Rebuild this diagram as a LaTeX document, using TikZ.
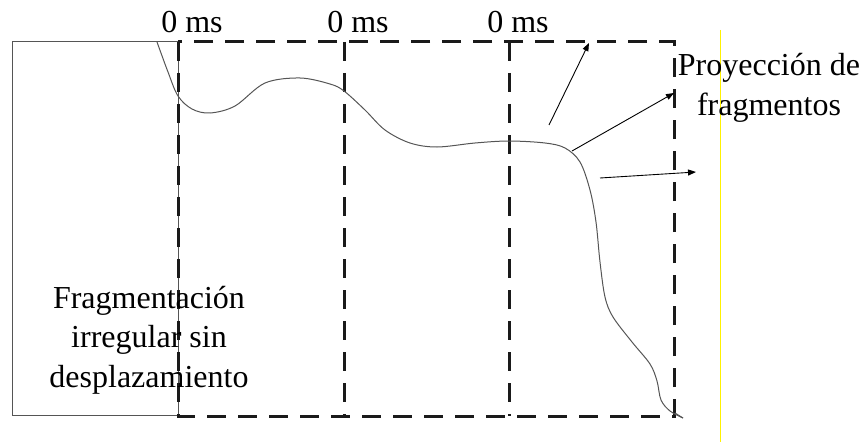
\documentclass[tikz,border=0pt]{standalone}
\usepackage{fontspec}
\setmainfont{Liberation Serif}[Ligatures=TeX]
\usetikzlibrary{arrows.meta}
\definecolor{edgegray}{HTML}{555555}
\definecolor{dashink}{HTML}{1A1A1A}
\tikzset{
  solidframe/.style={draw=edgegray, line width=1pt},
  phasebox/.style={draw=dashink, line width=3pt, dash pattern=on 19pt off 12pt},
  crack/.style={draw=edgegray, line width=1pt},
  spray/.style={draw=black, line width=0.9pt, -{Triangle[length=8pt,width=6pt]}},
  lbl/.style={font=\rmfamily\fontsize{32}{39.5}\selectfont, inner sep=0pt, align=center},
}
\begin{document}
\begin{tikzpicture}[x=1pt, y=-1pt]
  \useasboundingbox (0,0) rectangle (863,444);

  % undisturbed block on the left
  \draw[solidframe] (178,42) -- (12,42) -- (12,415) -- (178,415) -- cycle;

  % the three time windows
  \draw[phasebox] (178,42) rectangle (674,416);
  \draw[phasebox] (344,42) -- (344,416);
  \draw[phasebox] (509,42) -- (509,416);

  % timestamps above each window
  \node[lbl, anchor=base] (t1) at (192,33) {0 ms};
  \node[lbl, anchor=base] (t2) at (358,33) {0 ms};
  \node[lbl, anchor=base] (t3) at (518,33) {0 ms};

  % fracture front
  \draw[crack] plot[smooth, tension=0.55] coordinates {
    (157,42) (168,72) (178,96) (192,109) (210,113) (235,106) (265,83)
    (300,78) (330,84) (344,91) (365,110) (385,130) (410,143) (437,147)
    (475,143) (509,141) (545,143) (565,148) (580,162) (590,190) (596,222)
    (600,262) (605,297) (613,317) (632,342) (650,364) (657,381) (661,400)
    (670,411) (683,418)};
  \draw[crack] (675,413) -- (683,418);

  % projected fragments
  \coordinate (s1) at (549,125); \coordinate (e1) at (589,43);
  \coordinate (s2) at (572,151); \coordinate (e2) at (674,93);
  \coordinate (s3) at (600,178); \coordinate (e3) at (696,172);
  \draw[spray] (s1) -- (e1);
  \draw[spray] (s2) -- (e2);
  \draw[spray] (s3) -- (e3);

  % guide line
  \draw[yellow, line width=1pt] (720,30) -- (720,442);

  % captions (base anchor sits on the last line)
  \node[lbl, anchor=base] (proj) at (769,115) {Proyección de\\fragmentos};
  \node[lbl, anchor=base] (frag) at (149,387) {Fragmentación\\irregular sin\\desplazamiento};
\end{tikzpicture}
\end{document}
